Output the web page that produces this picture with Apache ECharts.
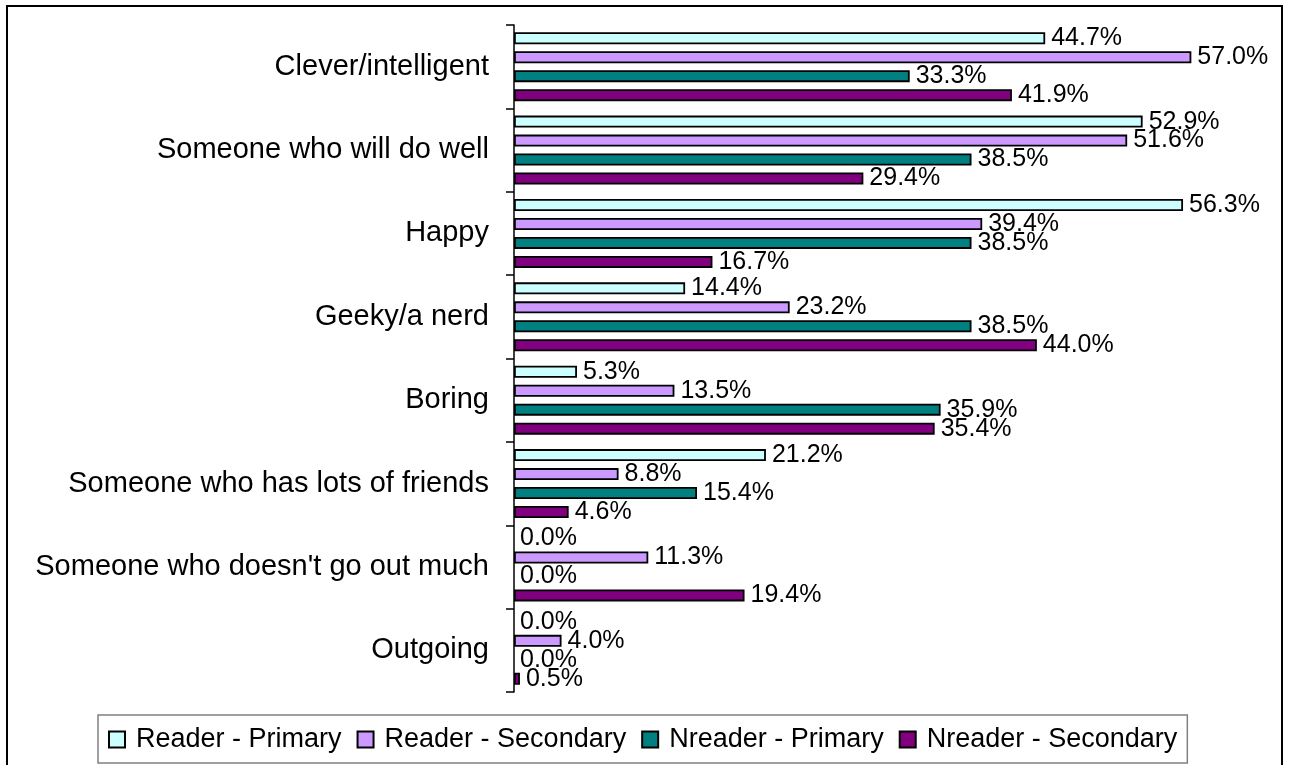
<!DOCTYPE html>
<html>
<head>
<meta charset="utf-8">
<script src="https://cdn.jsdelivr.net/npm/echarts@6/dist/echarts.min.js"></script>
<style>
  html, body { margin: 0; padding: 0; background: #fff; }
  #chart { width: 1290px; height: 765px; }
</style>
</head>
<body>
<div id="chart"></div>
<script>
// Attributes, top to bottom
const categories = [
  'Clever/intelligent',
  'Someone who will do well',
  'Happy',
  'Geeky/a nerd',
  'Boring',
  'Someone who has lots of friends',
  "Someone who doesn't go out much",
  'Outgoing'
];

// Percentages per group
const readerPrimary   = [44.7, 52.9, 56.3, 14.4, 5.3, 21.2, 0.0, 0.0];
const readerSecondary = [57.0, 51.6, 39.4, 23.2, 13.5, 8.8, 11.3, 4.0];
const nreaderPrimary  = [33.3, 38.5, 38.5, 38.5, 35.9, 15.4, 0.0, 0.0];
const nreaderSecondary = [41.9, 29.4, 16.7, 44.0, 35.4, 4.6, 19.4, 0.5];

const seriesNames = ['Reader - Primary', 'Reader - Secondary', 'Nreader - Primary', 'Nreader - Secondary'];
const seriesColors = ['#CCFFFF', '#CC99FF', '#008080', '#800080'];
const seriesValues = [readerPrimary, readerSecondary, nreaderPrimary, nreaderSecondary];

const FONT = '"Liberation Sans", Arial, sans-serif';

const chart = echarts.init(document.getElementById('chart'), null, { renderer: 'canvas' });

const series = seriesValues.map((vals, i) => ({
  name: seriesNames[i],
  type: 'bar',
  barWidth: 12,
  barGap: '58%',
  itemStyle: { color: seriesColors[i], borderColor: '#000', borderWidth: 1.8 },
  label: {
    show: true,
    position: 'right',
    distance: 6,
    color: '#000',
    fontFamily: FONT,
    fontSize: 25,
    formatter: p => p.value.toFixed(1) + '%'
  },
  data: vals.map(v => v === 0 ? { value: v, itemStyle: { borderWidth: 0 } } : v)
}));

chart.setOption({
  animation: false,
  backgroundColor: '#fff',
  grid: { left: 514, top: 25, width: 713, height: 667, containLabel: false },
  xAxis: {
    type: 'value',
    min: 0,
    max: 60,
    show: false
  },
  yAxis: {
    type: 'category',
    inverse: true,
    data: categories,
    axisLine: { show: true, lineStyle: { color: '#000', width: 1.5 } },
    axisTick: { show: true, length: 8, lineStyle: { color: '#000', width: 1.5 } },
    axisLabel: { color: '#000', fontFamily: FONT, fontSize: 29, margin: 25 },
    splitLine: { show: false }
  },
  legend: {
    left: 98,
    top: 715,
    padding: [11, 10, 10, 10],
    borderColor: '#808080',
    borderWidth: 1.5,
    itemWidth: 16,
    itemHeight: 16,
    itemGap: 15,
    icon: 'rect',
    textStyle: { color: '#000', fontFamily: FONT, fontSize: 27, padding: [0, 0, 0, 6] },
    data: seriesNames
  },
  graphic: [{
    type: 'rect',
    shape: { x: 7, y: 6, width: 1275, height: 770 },
    style: { fill: 'none', stroke: '#000', lineWidth: 2 },
    silent: true
  }],
  series: series
});
</script>
</body>
</html>
